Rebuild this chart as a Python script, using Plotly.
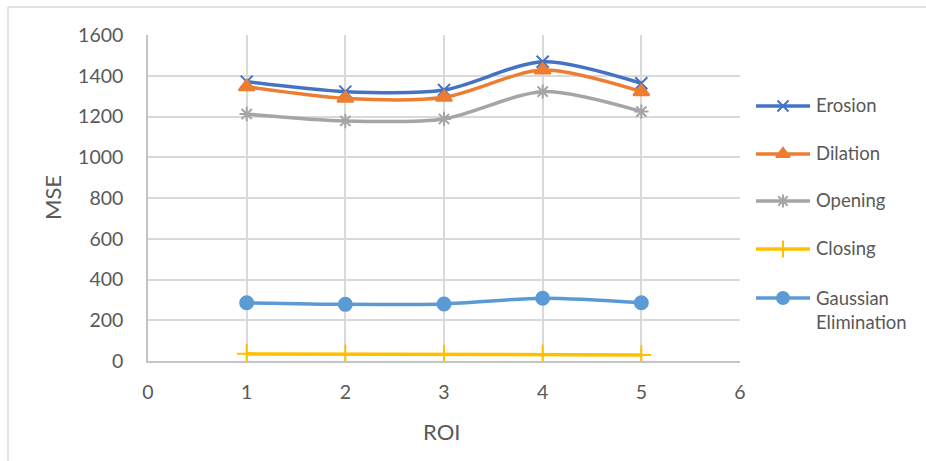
import plotly.graph_objects as go

# ROI index and MSE per morphological / filtering method
roi = [1, 2, 3, 4, 5]
erosion = [1371, 1322, 1330, 1469, 1363]
dilation = [1346, 1289, 1294, 1428, 1322]
opening = [1212, 1178, 1188, 1322, 1224]
closing = [35, 33, 31, 33, 30]
gaussian = [286, 278, 280, 308, 286]

series_names = ["Erosion", "Dilation", "Opening", "Closing", "Gaussian<br>Elimination"]
series_values = [erosion, dilation, opening, closing, gaussian]
colors = ["#4472C4", "#ED7D31", "#A5A5A5", "#FFC000", "#5B9BD5"]
symbols = ["x-thin-open", "triangle-up", "asterisk-open", "cross-thin-open", "circle"]
marker_sizes = [12, 14, 12, 14, 13]
legend_marker_sizes = [11, 12, 11, 12, 12]
shapes_line = ["spline", "spline", "spline", "linear", "spline"]

x_ticks = [0, 1, 2, 3, 4, 5, 6]
y_ticks = [0, 200, 400, 600, 800, 1000, 1200, 1400, 1600]

W, H = 926, 461
# plot area in pixels
L, R, T, B = 148, 740, 35, 361

FONT = "Lato, 'Open Sans', sans-serif"
TXT = "#595959"

fig = go.Figure()

for name, vals, c, sym, ms, shp in zip(series_names, series_values, colors, symbols, marker_sizes, shapes_line):
    fig.add_trace(go.Scatter(
        x=roi, y=vals, mode="lines+markers", name=name,
        line=dict(color=c, width=3.5, shape=shp, smoothing=0.8),
        marker=dict(symbol=sym, size=ms, color=c, line=dict(color=c, width=2)),
        showlegend=False, xaxis="x", yaxis="y",
    ))

# legend drawn on a pixel-space overlay axis
leg_y = [106, 154, 201, 249, 298]
for name, c, sym, ms, ly in zip(series_names, colors, symbols, legend_marker_sizes, leg_y):
    fig.add_trace(go.Scatter(
        x=[756, 810], y=[ly, ly], mode="lines",
        line=dict(color=c, width=3.5), showlegend=False,
        hoverinfo="skip", xaxis="x2", yaxis="y2",
    ))
    fig.add_trace(go.Scatter(
        x=[783], y=[ly], mode="markers",
        marker=dict(symbol=sym, size=ms, color=c, line=dict(color=c, width=2)),
        showlegend=False, hoverinfo="skip", xaxis="x2", yaxis="y2",
    ))
    fig.add_annotation(
        x=814, y=ly - 1 if "<br>" not in name else ly + 12, xref="x2", yref="y2",
        text=name, showarrow=False, xanchor="left", yanchor="middle", align="left",
        font=dict(family=FONT, size=18.5, color=TXT),
    )

fig.update_layout(
    width=W, height=H,
    margin=dict(l=0, r=0, t=0, b=0),
    paper_bgcolor="white", plot_bgcolor="rgba(0,0,0,0)",
    showlegend=False,
    font=dict(family=FONT, size=19.5, color=TXT),
    xaxis=dict(
        domain=[L / W, R / W], range=[0, 6], tickvals=x_ticks,
        showgrid=True, gridcolor="#D9D9D9", gridwidth=1.5,
        showline=True, linecolor="#C4C4C4", linewidth=1.5,
        zeroline=False, ticks="", ticklabelstandoff=13,
        tickfont=dict(family=FONT, size=19.5, color=TXT), automargin=False,
    ),
    yaxis=dict(
        domain=[1 - B / H, 1 - T / H], range=[0, 1600], tickvals=y_ticks,
        showgrid=True, gridcolor="#D9D9D9", gridwidth=1.5,
        showline=True, linecolor="#C4C4C4", linewidth=1.5,
        zeroline=False, ticks="", ticklabelstandoff=19,
        tickfont=dict(family=FONT, size=19.5, color=TXT), automargin=False,
    ),
    xaxis2=dict(domain=[0, 1], range=[0, W], visible=False, fixedrange=True, anchor="y2"),
    yaxis2=dict(domain=[0, 1], range=[H, 0], visible=False, fixedrange=True, anchor="x2"),
    shapes=[
        dict(type="line", xref="paper", yref="paper", x0=8 / W, x1=1, y0=1 - 7 / H, y1=1 - 7 / H,
             line=dict(color="#D9D9D9", width=1.5)),
        dict(type="line", xref="paper", yref="paper", x0=8 / W, x1=8 / W, y0=0, y1=1 - 7 / H,
             line=dict(color="#D9D9D9", width=1.5)),
    ],
)

# axis titles
fig.add_annotation(x=441, y=431, xref="x2", yref="y2", text="ROI", showarrow=False,
                   font=dict(family=FONT, size=22, color=TXT))
fig.add_annotation(x=52, y=198, xref="x2", yref="y2", text="MSE", showarrow=False, textangle=-90,
                   font=dict(family=FONT, size=22, color=TXT))

fig.write_html("out.html")
